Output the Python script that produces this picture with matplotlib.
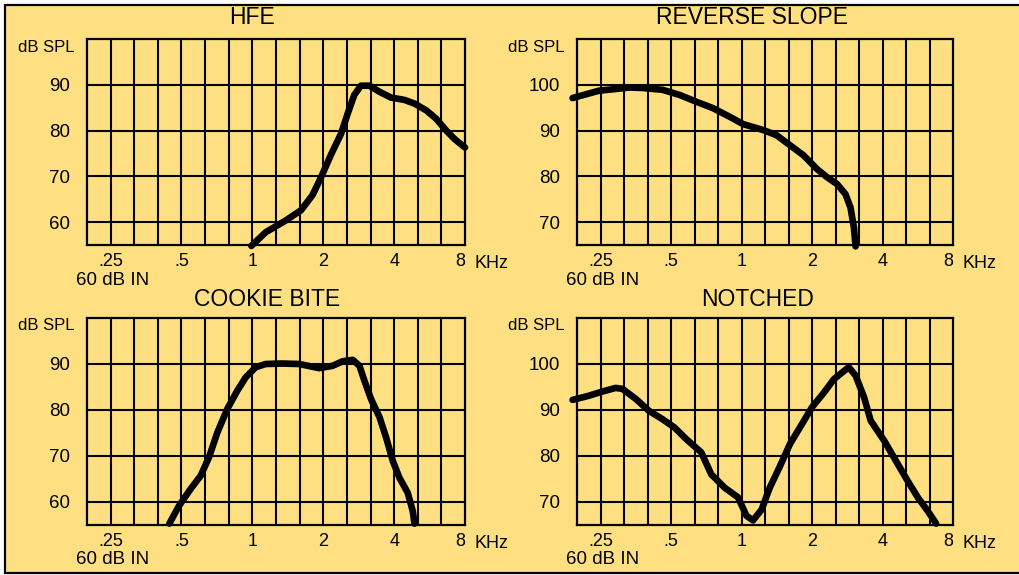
import numpy as np
import matplotlib
matplotlib.use("Agg")
import matplotlib.pyplot as plt
from matplotlib.patches import Rectangle

plt.rcParams['font.family'] = ['Liberation Sans', 'DejaVu Sans']

W, H = 1019, 575
BG = '#FEE083'

# --- データ（周波数 kHz / dB SPL） ---
hfe_f = [0.99, 1.14, 1.39, 1.61, 1.80, 1.95, 2.16, 2.38, 2.54, 2.71, 2.89, 3.14,
         3.46, 3.88, 4.42, 4.88, 5.48, 6.03, 6.66, 7.24, 8.0]
hfe_db = [54.8, 57.8, 60.4, 62.6, 65.9, 69.6, 74.8, 79.3, 83.7, 87.8, 89.8, 89.8,
          88.5, 87.2, 86.7, 85.9, 84.4, 82.6, 80.0, 78.1, 76.3]

rev_f = [0.190, 0.216, 0.246, 0.281, 0.331, 0.378, 0.460, 0.543, 0.641, 0.755, 0.891,
         1.017, 1.24, 1.41, 1.61, 1.84, 2.10, 2.32, 2.56, 2.78, 2.92, 3.02, 3.07]
rev_db = [97.1, 97.9, 98.7, 99.0, 99.4, 99.3, 98.9, 97.8, 96.3, 94.9, 93.0,
          91.4, 90.1, 89.0, 86.8, 84.6, 81.6, 79.8, 78.3, 76.1, 73.2, 68.8, 64.7]

cookie_f = [0.444, 0.487, 0.546, 0.603, 0.654, 0.710, 0.782, 0.863, 0.937, 1.033, 1.14,
            1.34, 1.58, 1.92, 2.19, 2.42, 2.67, 2.85, 2.99, 3.19, 3.47, 3.70, 3.95,
            4.21, 4.57, 4.80, 4.88]
cookie_db = [55.3, 59.1, 62.8, 65.7, 69.7, 75.1, 80.2, 84.2, 87.1, 89.3, 90.0,
             90.1, 90.0, 89.1, 89.6, 90.6, 90.9, 89.6, 86.4, 82.4, 78.4, 74.0, 68.9,
             65.3, 62.0, 58.0, 55.3]

notch_f = [0.190, 0.223, 0.254, 0.290, 0.310, 0.354, 0.403, 0.460, 0.517, 0.580, 0.673,
           0.743, 0.848, 0.967, 1.05, 1.12, 1.22, 1.32, 1.46, 1.61, 1.81, 2.0, 2.25,
           2.48, 2.87, 3.07, 3.34, 3.56, 4.07, 4.57, 5.12, 5.66, 6.25, 6.78]
notch_db = [92.2, 93.1, 94.0, 94.8, 94.6, 92.4, 89.8, 88.0, 86.2, 83.7, 80.8,
            76.0, 73.1, 71.0, 67.0, 66.0, 68.4, 73.1, 77.8, 82.6, 86.9, 90.6, 93.8,
            96.7, 99.3, 97.5, 92.7, 87.7, 83.3, 78.9, 74.6, 71.0, 68.0, 65.3]

xtick_vals = [0.25, 0.5, 1, 2, 4, 8]
xtick_labels = ['.25', '.5', '1', '2', '4', '8']

# (タイトル, 周波数, dB, y目盛り, 枠の左上x, 上y, 右x, 下y, タイトル中心x, タイトルy)
panels = [
    ('HFE', hfe_f, hfe_db, [60, 70, 80, 90], 87, 39, 465, 245, 252, 16),
    ('REVERSE SLOPE', rev_f, rev_db, [70, 80, 90, 100], 577, 39, 953, 245, 752, 16),
    ('COOKIE BITE', cookie_f, cookie_db, [60, 70, 80, 90], 87, 318, 465, 525, 267, 298),
    ('NOTCHED', notch_f, notch_db, [70, 80, 90, 100], 577, 318, 953, 525, 758, 298),
]


def fx(x):
    return x / W


def fy(y):
    return 1 - y / H


fig = plt.figure(figsize=(W / 100, H / 100), dpi=100, facecolor='white')

# 外枠（右側は画像外）
fig.patches.append(Rectangle((fx(5), fy(573)), 1.2, fy(5) - fy(573), transform=fig.transFigure,
                             facecolor=BG, edgecolor='black', linewidth=1.6, zorder=-10))

xmin = 0.25 * 2 ** (-1 / 3)
minor_x = [xmin * 2 ** (k / 3) for k in range(17)]

for title, f, db, yt, x0, y0, x1, y1, tx, ty in panels:
    ax = fig.add_axes([fx(x0), fy(y1), fx(x1) - fx(x0), fy(y0) - fy(y1)])
    ax.set_facecolor(BG)
    ax.set_xscale('log', base=2)
    ax.set_xlim(xmin, 8)
    ax.set_ylim(yt[0] - 5, yt[-1] + 10)

    # 1/3オクターブごとの縦線と10dBごとの横線
    for xv in minor_x[1:-1]:
        ax.axvline(xv, color='black', linewidth=1.5, zorder=1)
    for yv in yt:
        ax.axhline(yv, color='black', linewidth=1.5, zorder=1)

    ax.plot(f, db, color='black', linewidth=4.8, solid_capstyle='round',
            solid_joinstyle='round', zorder=3, clip_on=False)

    for s in ax.spines.values():
        s.set_linewidth(1.6)

    ax.set_xticks(xtick_vals)
    ax.set_xticklabels(xtick_labels, fontsize=13)
    ax.xaxis.set_minor_locator(plt.NullLocator())
    ax.get_xticklabels()[-1].set_horizontalalignment('right')
    ax.set_yticks(yt)
    ax.set_yticklabels([str(v) for v in yt], fontsize=13.5)
    ax.tick_params(axis='x', length=0, pad=6)
    ax.tick_params(axis='y', length=0, pad=12)

    fig.text(fx(tx), fy(ty + 1), title, fontsize=16.5, ha='center', va='center')
    fig.text(fx(x0 - 12), fy(y0 + 8), 'dB SPL', fontsize=12, ha='right', va='center')
    fig.text(fx(x0 + 26), fy(y1 + 35), '60 dB IN', fontsize=13.5, ha='center', va='center')
    fig.text(fx(x1 + 10), fy(y1 + 18), 'KHz', fontsize=13, ha='left', va='center')

fig.savefig('out.png', dpi=100, facecolor=fig.get_facecolor())
